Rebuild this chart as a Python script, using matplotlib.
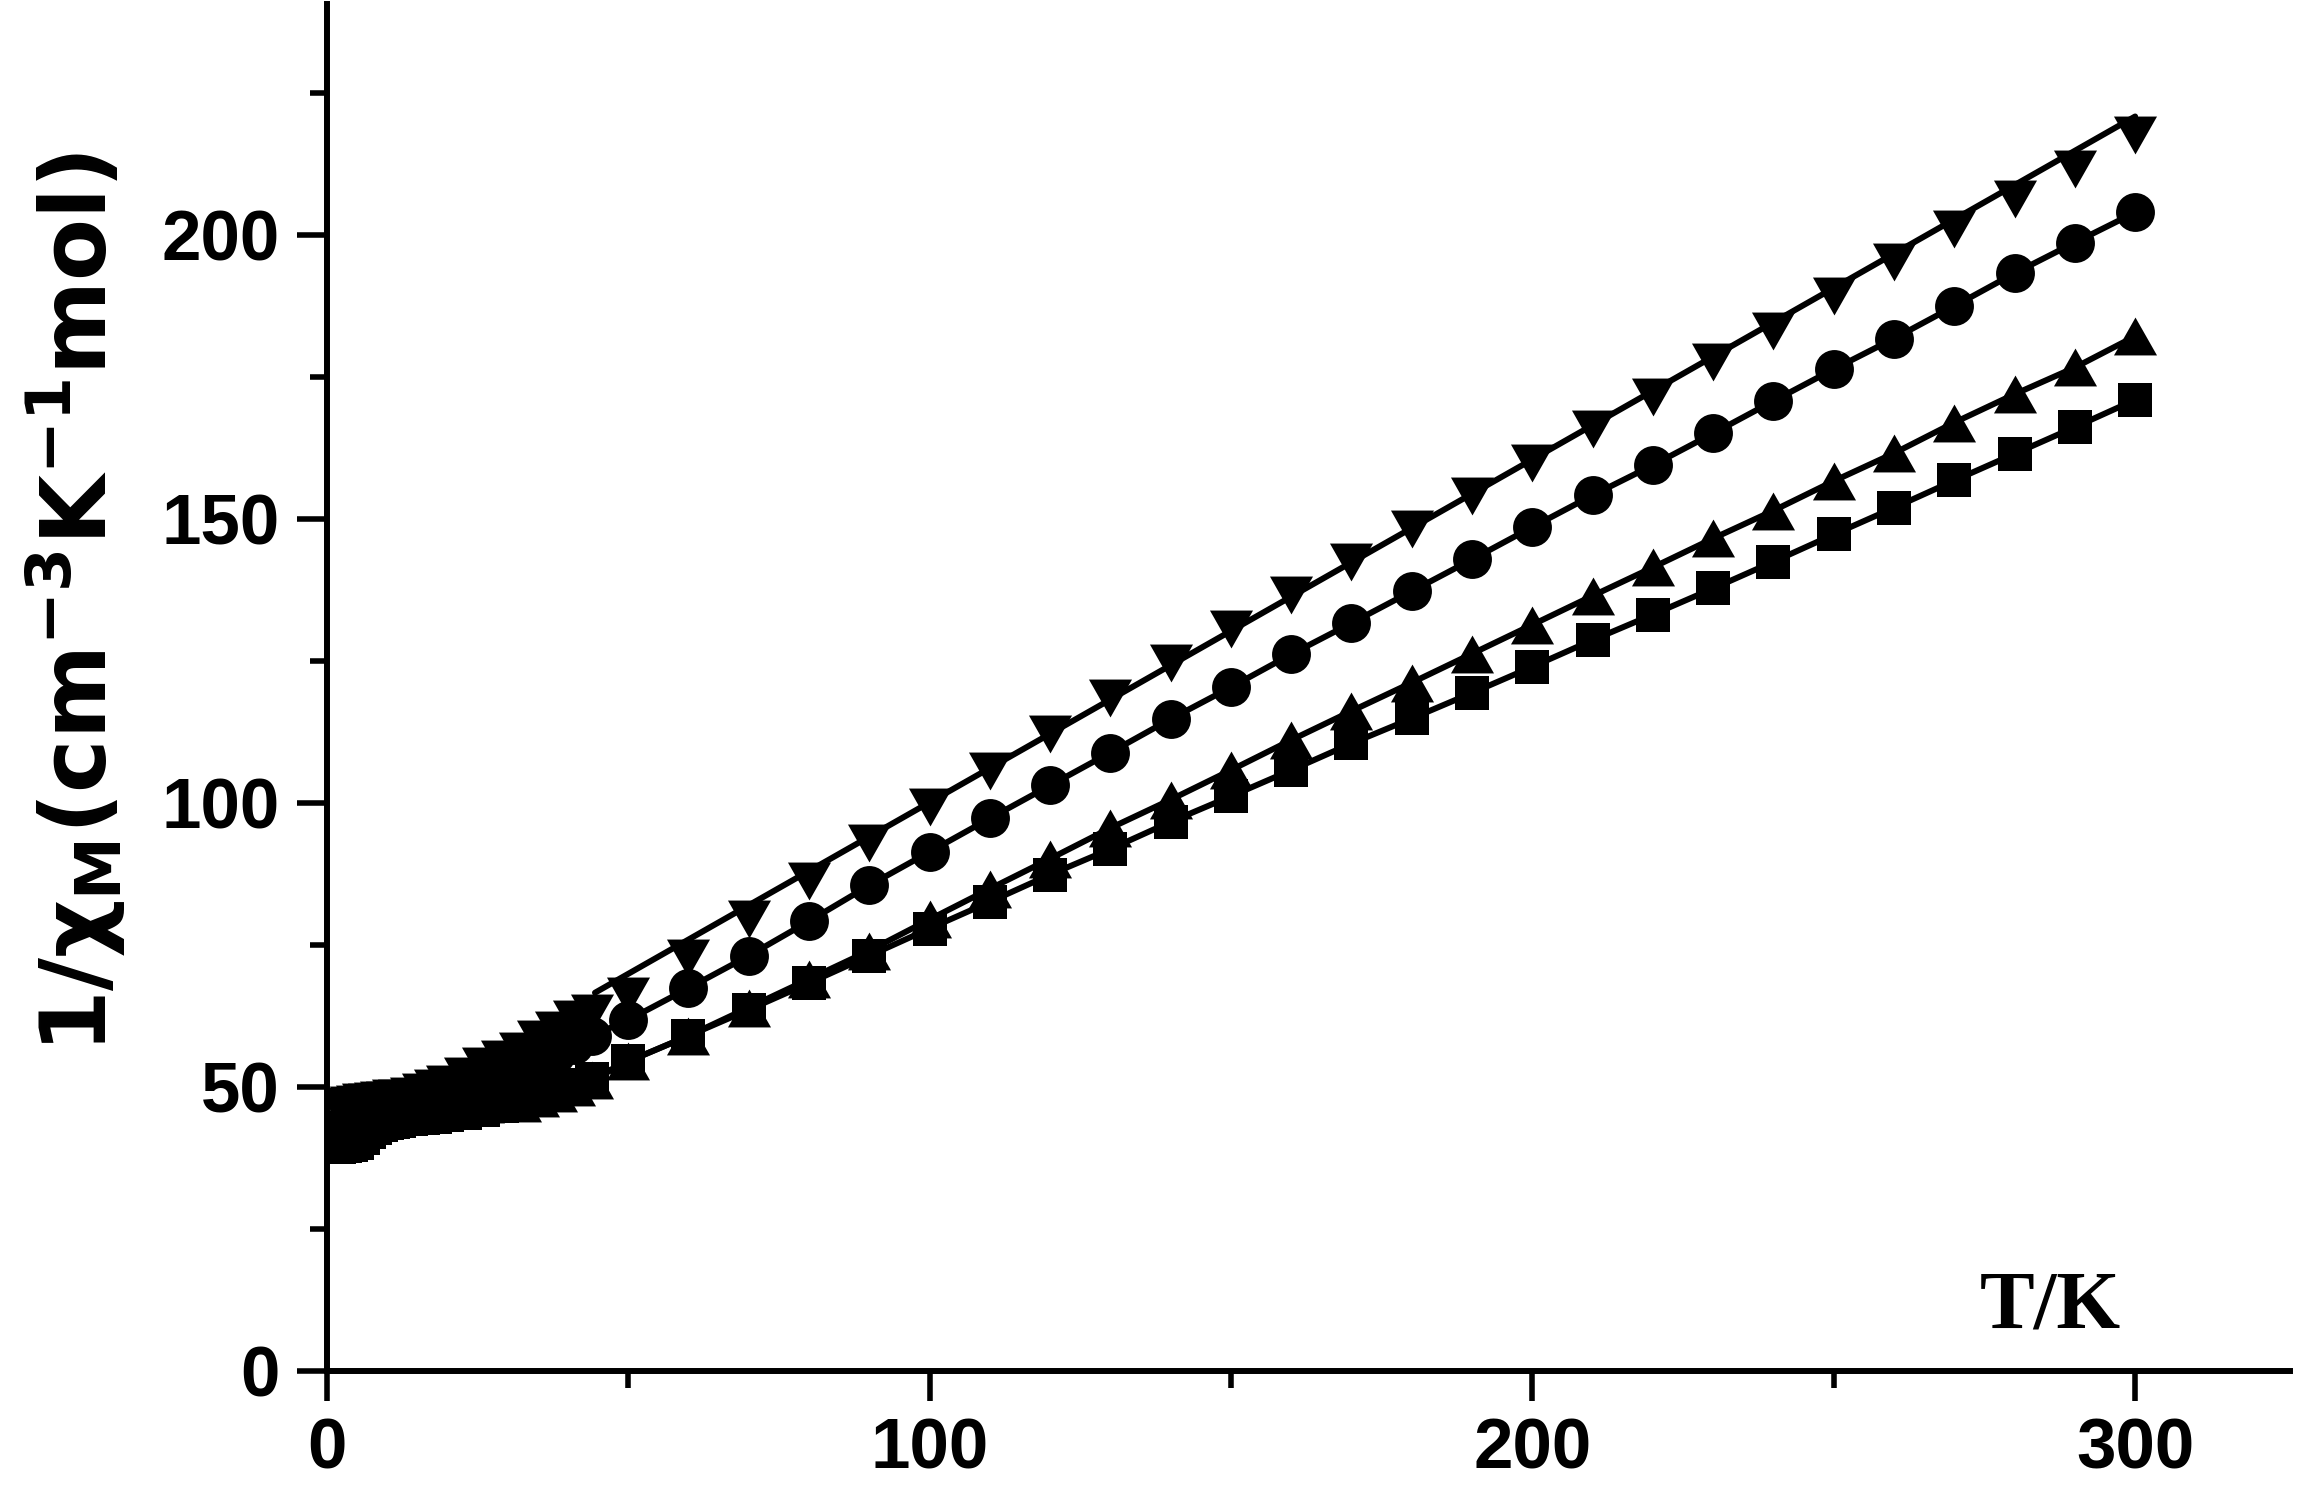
import matplotlib
matplotlib.use("Agg")
import matplotlib.pyplot as plt
from matplotlib.ticker import MultipleLocator

# ─── Style ────────────────────────────────────────────────────────────────────
plt.rcParams.update({
    "font.family": "Liberation Sans",
    "font.weight": "bold",
    "mathtext.fontset": "custom",
    "mathtext.rm": "DejaVu Sans:bold",
    "mathtext.it": "DejaVu Sans:bold",
    "mathtext.bf": "DejaVu Sans:bold",
})
INK = "black"
LW = 4.3

# ─── Data ─────────────────────────────────────────────────────────────────────
# dense low-temperature sweep
T_low = [2, 3, 4, 5, 6, 7, 8, 9, 10, 11, 12, 14, 16, 18, 20, 23, 26, 29, 32, 35, 38, 41, 44]
# 10 K steps
T_high = [50, 60, 70, 80, 90, 100, 110, 120, 130, 140, 150, 160, 170,
          180, 190, 200, 210, 220, 230, 240, 250, 260, 270, 280, 290, 300]

down_low = [46.4, 46.6, 46.8, 47.0, 47.3, 47.4, 47.5, 47.7, 47.8, 48.0, 48.1, 48.5,
            49.2, 49.9, 50.5, 51.9, 53.7, 55.0, 56.4, 58.4, 60.1, 61.9, 63.0]
down_high = [66.0, 72.8, 79.5, 86.2, 92.9, 99.3, 105.7, 112.1, 118.5, 124.6, 130.6,
             136.6, 142.4, 148.2, 154.0, 159.9, 165.8, 171.5, 177.6, 183.1, 189.3,
             195.2, 201.0, 206.4, 211.7, 217.7]
# straight fit through the down-triangle series
down_fit_T = [44.5, 300]
down_fit_V = [66.6, 220.9]

circ_low = [43.0, 43.3, 43.6, 44.0, 44.5, 45.0, 45.4, 45.7, 46.0, 46.2, 46.4, 46.8,
            47.3, 47.8, 48.4, 49.4, 50.5, 51.8, 53.0, 54.4, 55.8, 57.4, 59.0]
circ_high = [61.8, 67.4, 73.1, 79.2, 85.5, 91.4, 97.3, 103.1, 108.9, 114.8, 120.4,
             126.2, 131.7, 137.3, 142.9, 148.6, 154.2, 159.5, 165.1, 170.8, 176.4,
             181.8, 187.5, 193.3, 198.7, 204.0]

up_low = [40.5, 40.8, 41.2, 41.8, 42.6, 43.3, 43.9, 44.3, 44.6, 44.8, 45.0, 45.3,
          45.6, 45.9, 46.2, 46.7, 47.0, 47.3, 47.2, 48.0, 49.0, 50.0, 51.2]
up_high = [54.5, 59.0, 64.0, 69.0, 74.0, 79.5, 84.9, 90.2, 95.6, 100.6, 105.8,
           111.1, 116.2, 121.2, 126.3, 131.4, 136.5, 141.5, 146.6, 151.5, 156.7,
           161.6, 167.0, 172.0, 176.7, 182.2]

sq_low = [39.5, 39.6, 39.8, 40.2, 41.0, 42.0, 42.8, 43.3, 43.6, 43.8, 44.0, 44.3,
          44.5, 44.7, 45.0, 45.5, 45.9, 46.6, 47.6, 48.5, 49.4, 50.3, 51.5]
sq_high = [54.5, 59.0, 63.6, 68.3, 73.1, 77.9, 82.6, 87.4, 91.9, 96.7, 101.2,
           105.8, 110.5, 114.9, 119.4, 124.0, 128.7, 133.2, 137.8, 142.5, 147.3,
           152.0, 156.8, 161.5, 166.2, 171.0]

# Origin-style triangles: a bit wider than tall
TRI_UP = [(0, 0.88), (-1, -0.88), (1, -0.88), (0, 0.88)]
TRI_DOWN = [(0, -0.88), (-1, 0.88), (1, 0.88), (0, -0.88)]

# ─── Figure ───────────────────────────────────────────────────────────────────
fig = plt.figure(figsize=(23.09, 14.91), dpi=100)
ax = fig.add_axes([0.1415, 0.0805, 0.8503, 0.9168])

mk = dict(color=INK, markeredgewidth=0, zorder=3)

# lines joining the points (circles, up-triangles, squares)
for lo, hi in [(circ_low, circ_high), (up_low, up_high), (sq_low, sq_high)]:
    ax.plot(T_low + T_high, lo + hi, color=INK, lw=LW, zorder=2)
ax.plot(down_fit_T, down_fit_V, color=INK, lw=LW, solid_capstyle="round", zorder=2)

ax.plot(T_low + T_high, sq_low + sq_high, ls="none", marker="s", ms=25, **mk)
ax.plot(T_low + T_high, up_low + up_high, ls="none", marker=TRI_UP, ms=31, **mk)
ax.plot(T_low + T_high, circ_low + circ_high, ls="none", marker="o", ms=28, **mk)
ax.plot(T_low + T_high, down_low + down_high, ls="none", marker=TRI_DOWN, ms=31, **mk)

ax.set_xlim(0, 325.7)
ax.set_ylim(0, 240.7)

for side in ("top", "right"):
    ax.spines[side].set_visible(False)
for side in ("left", "bottom"):
    ax.spines[side].set_linewidth(LW)

ax.xaxis.set_major_locator(MultipleLocator(100))
ax.xaxis.set_minor_locator(MultipleLocator(50))
ax.yaxis.set_major_locator(MultipleLocator(50))
ax.yaxis.set_minor_locator(MultipleLocator(25))
ax.tick_params(which="major", direction="out", length=21.6, width=4, labelsize=51, pad=12)
ax.tick_params(which="minor", direction="out", length=12, width=4)
for lab in ax.get_xticklabels() + ax.get_yticklabels():
    lab.set_fontweight("bold")

ax.text(0.878, 0.0315, "T/K", transform=ax.transAxes, ha="center", va="baseline",
        family="Liberation Serif", fontweight="bold", fontsize=59)

fig.text(0.0325, 0.596, r"1/$\chi_{M}$(cm$^{-3}$K$^{-1}$mol)", rotation=90,
         ha="center", va="center", family="DejaVu Sans", fontweight="bold", fontsize=65)

fig.savefig("out.png", dpi=100)
